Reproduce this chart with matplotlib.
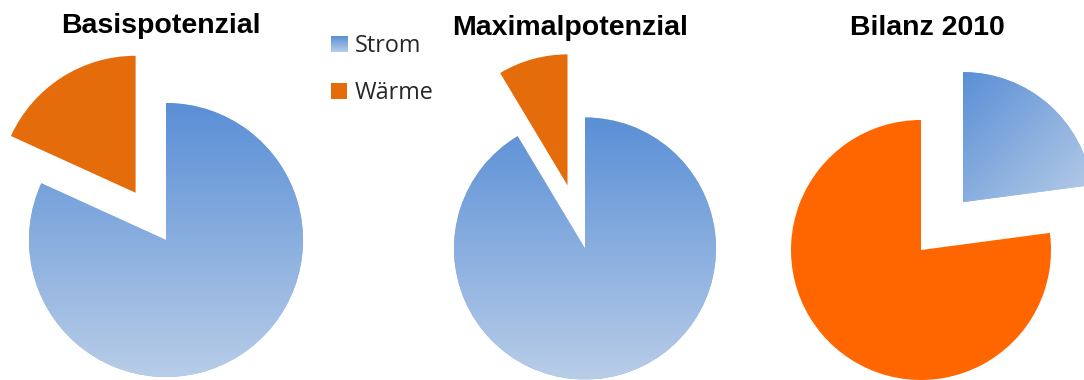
import matplotlib
matplotlib.use("Agg")
import matplotlib.pyplot as plt
import numpy as np
from matplotlib.colors import to_rgb
from matplotlib.legend_handler import HandlerPatch
from matplotlib.image import BboxImage
from matplotlib.transforms import Bbox, TransformedBbox
from matplotlib.patches import Rectangle

# Anteile in Prozent: [Strom, Wärme]
kategorien = ["Strom", "Wärme"]
titel = ["Basispotenzial", "Maximalpotenzial", "Bilanz 2010"]
basispotenzial = [81.8, 18.2]
maximalpotenzial = [91.4, 8.6]
bilanz_2010 = [22.9, 77.1]

W, H = 1084, 380
fig = plt.figure(figsize=(W / 100, H / 100), dpi=100)
ax = fig.add_axes([0, 0, 1, 1])

BLAU_OBEN = "#5a8fd6"
BLAU_UNTEN = "#b8cde8"
ORANGE = "#e46c0a"
ORANGE_HELL = "#ff6600"


def verlauf(n=256, diagonal=False):
    c0 = np.array(to_rgb(BLAU_OBEN))
    c1 = np.array(to_rgb(BLAU_UNTEN))
    t = np.linspace(0, 1, n)
    if diagonal:
        t = (t[:, None] + t[None, :]) / 2
    else:
        t = t[:, None]
    return c0 + (c1 - c0) * t[..., None]


# (Werte, Mittelpunkt, Radius, abgesetzter Anteil, Abstand, Wärmefarbe, diagonal, Titel-x, Titel-Grundlinie)
diagramme = [
    (basispotenzial, (166, H - 240), 137, 1, 0.41, ORANGE, False, 161, 33),
    (maximalpotenzial, (585, H - 248.5), 131, 1, 0.50, ORANGE, False, 570, 35),
    (bilanz_2010, (921, H - 250), 130, 0, 0.49, ORANGE_HELL, True, 927, 35),
]

for (werte, mitte, r, idx, abst, farbe_w, diag, tx, ty), name in zip(diagramme, titel):
    explode = [0, 0]
    explode[idx] = abst * r
    wedges, _ = ax.pie(werte, center=mitte, radius=r, startangle=90,
                       counterclock=False, explode=explode,
                       colors=["#8fb0e0", farbe_w],
                       wedgeprops=dict(linewidth=0))
    strom = wedges[0]
    ext = strom.get_path().get_extents()
    img = ax.imshow(verlauf(256, diag), extent=(ext.x0, ext.x1, ext.y0, ext.y1),
                    origin="upper", interpolation="bilinear", zorder=2)
    img.set_clip_path(strom)
    ax.text(tx, H - ty, name, ha="center", va="baseline", fontsize=20.5,
            fontweight="bold", family="Liberation Sans", color="black")


class VerlaufHandler(HandlerPatch):
    def create_artists(self, legend, orig_handle, xdescent, ydescent,
                       width, height, fontsize, trans):
        bbox = TransformedBbox(Bbox.from_bounds(-xdescent, -ydescent, width, height), trans)
        bild = BboxImage(bbox, interpolation="bilinear")
        bild.set_data(verlauf(64))
        return [bild]


h_strom = Rectangle((0, 0), 1, 1, facecolor="#8fb0e0")
h_waerme = Rectangle((0, 0), 1, 1, facecolor=ORANGE)
ax.legend([h_strom, h_waerme], kategorien,
          handler_map={h_strom: VerlaufHandler()},
          loc="upper left", bbox_to_anchor=(331 / W, 1 - 34 / H),
          bbox_transform=fig.transFigure, frameon=False,
          prop=dict(family="Open Sans", size=16.8), labelcolor="#262626",
          handlelength=0.7, handleheight=0.65, handletextpad=0.3,
          labelspacing=1.0, borderpad=0, borderaxespad=0)

ax.set_xlim(0, W)
ax.set_ylim(0, H)
ax.set_aspect("equal")
ax.set_axis_off()

fig.savefig("out.png", dpi=100, facecolor="white")
